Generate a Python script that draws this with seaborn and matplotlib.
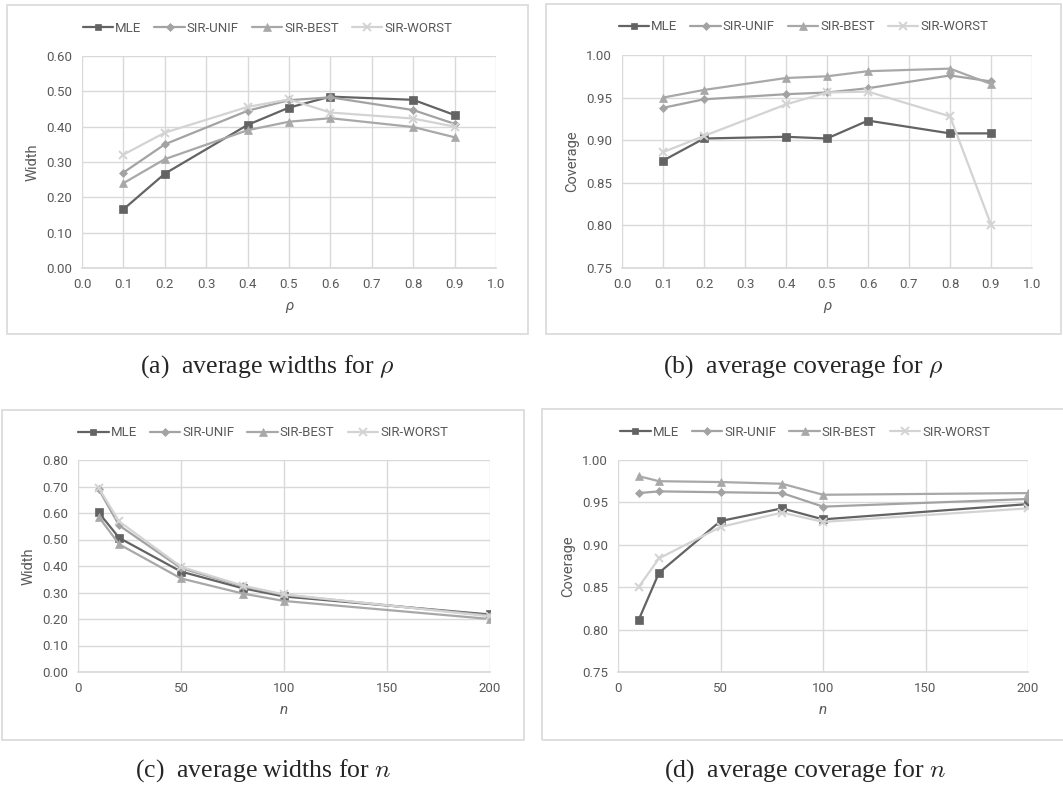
import matplotlib
matplotlib.use("Agg")
import matplotlib.pyplot as plt
import numpy as np
import pandas as pd
import seaborn as sns
from matplotlib.patches import Rectangle

sns.set_theme(style="whitegrid")
plt.rcParams["font.family"] = ["Roboto", "DejaVu Sans"]
plt.rcParams["mathtext.fontset"] = "cm"

W, H = 1063, 785

methods = ["MLE", "SIR-UNIF", "SIR-BEST", "SIR-WORST"]
colors = {"MLE": "#636363", "SIR-UNIF": "#a3a3a3", "SIR-BEST": "#a8a8a8", "SIR-WORST": "#d3d3d3"}
markers = {"MLE": "s", "SIR-UNIF": "D", "SIR-BEST": "^", "SIR-WORST": "x"}
msizes = {"MLE": 5.5, "SIR-UNIF": 4.5, "SIR-BEST": 6, "SIR-WORST": 6}

rho = [0.1, 0.2, 0.4, 0.5, 0.6, 0.8, 0.9]
width_rho = {
    "MLE": [0.166, 0.267, 0.405, 0.454, 0.485, 0.476, 0.433],
    "SIR-UNIF": [0.270, 0.350, 0.445, 0.475, 0.483, 0.447, 0.408],
    "SIR-BEST": [0.240, 0.308, 0.390, 0.414, 0.424, 0.399, 0.370],
    "SIR-WORST": [0.321, 0.383, 0.456, 0.477, 0.440, 0.423, 0.400],
}
cover_rho = {
    "MLE": [0.876, 0.902, 0.904, 0.902, 0.923, 0.908, 0.908],
    "SIR-UNIF": [0.938, 0.948, 0.954, 0.956, 0.961, 0.976, 0.969],
    "SIR-BEST": [0.950, 0.959, 0.973, 0.975, 0.981, 0.984, 0.966],
    "SIR-WORST": [0.886, 0.905, 0.942, 0.956, 0.957, 0.928, 0.801],
}

n_vals = [10, 20, 50, 80, 100, 200]
width_n = {
    "MLE": [0.602, 0.506, 0.379, 0.316, 0.285, 0.217],
    "SIR-UNIF": [0.690, 0.553, 0.392, 0.323, 0.291, 0.213],
    "SIR-BEST": [0.586, 0.482, 0.353, 0.296, 0.268, 0.200],
    "SIR-WORST": [0.695, 0.568, 0.397, 0.326, 0.293, 0.210],
}
cover_n = {
    "MLE": [0.811, 0.867, 0.928, 0.943, 0.930, 0.948],
    "SIR-UNIF": [0.961, 0.963, 0.962, 0.961, 0.945, 0.954],
    "SIR-BEST": [0.981, 0.975, 0.974, 0.972, 0.959, 0.961],
    "SIR-WORST": [0.850, 0.884, 0.921, 0.938, 0.927, 0.943],
}


def long_frame(x, table):
    rows = []
    for m in methods:
        for xv, yv in zip(x, table[m]):
            rows.append({"x": xv, "y": yv, "method": m})
    return pd.DataFrame(rows)


def px_axes(fig, left, top, right, bottom):
    return fig.add_axes([left / W, 1 - bottom / H, (right - left) / W, (bottom - top) / H])


def box(fig, left, top, right, bottom):
    fig.patches.append(Rectangle((left / W, 1 - bottom / H), (right - left) / W, (bottom - top) / H,
                                 transform=fig.transFigure, fill=False, edgecolor="#d9d9d9", linewidth=1.2))


def panel(fig, rect, frame, x, table, ylim, yticks, yfmt, ylabel, xlim, xticks, xfmt, xlabel, caption, cap_y):
    box(fig, *frame)
    ax = px_axes(fig, *rect)
    df = long_frame(x, table)
    for m in methods:
        sub = df[df["method"] == m]
        sns.lineplot(data=sub, x="x", y="y", ax=ax, color=colors[m], marker=markers[m],
                     markersize=msizes[m], markeredgecolor=colors[m],
                     markeredgewidth=1.4 if m == "SIR-WORST" else 0.5,
                     linewidth=1.6, label=m, legend=False)
    ax.set_xlim(*xlim)
    ax.set_ylim(*ylim)
    ax.set_xticks(xticks)
    ax.set_yticks(yticks)
    ax.set_xticklabels([xfmt.format(v) for v in xticks])
    ax.set_yticklabels([yfmt.format(v) for v in yticks])
    ax.tick_params(axis="both", labelsize=9.5, labelcolor="#595959", length=0, pad=7)
    ax.grid(True, color="#d9d9d9", linewidth=1)
    for s in ["top", "right", "left"]:
        ax.spines[s].set_visible(False)
    ax.spines["bottom"].set_color("#d9d9d9")
    ax.set_facecolor("white")
    ax.set_ylabel(ylabel, fontsize=10.5, color="#595959", labelpad=5)
    ax.set_xlabel(xlabel, fontsize=11, color="#595959", fontstyle="italic", labelpad=6)
    handles, labels = ax.get_legend_handles_labels()
    cx = (frame[0] + frame[2]) / 2
    cy = frame[1] + 23
    fig.legend(handles, labels, loc="center", bbox_to_anchor=(cx / W, 1 - cy / H), ncol=4, frameon=False,
               fontsize=9.5, labelcolor="#595959", handlelength=2.3, handletextpad=0.15, columnspacing=1.0,
               markerscale=0.9)
    fig.text(cx / W, 1 - cap_y / H, caption, ha="center", va="center",
             fontsize=18.5, family=["Liberation Serif", "DejaVu Serif"])
    return ax


fig = plt.figure(figsize=(W / 100, H / 100), dpi=100)
fig.patch.set_facecolor("white")

rho_ticks = np.round(np.arange(0, 1.01, 0.1), 1)
panel(fig, (82, 56, 496, 268), (7, 5, 528, 334), rho, width_rho, (0, 0.6),
      np.round(np.arange(0, 0.61, 0.1), 2), "{:.2f}", "Width",
      (0, 1.0), rho_ticks, "{:.1f}", "ρ", "(a)  average widths for $\\rho$", 367)
panel(fig, (622, 55, 1032, 268), (546, 4, 1061, 334), rho, cover_rho, (0.75, 1.0),
      np.round(np.arange(0.75, 1.001, 0.05), 2), "{:.2f}", "Coverage",
      (0, 1.0), rho_ticks, "{:.1f}", "ρ", "(b)  average coverage for $\\rho$", 367)
panel(fig, (78, 460, 490, 672), (2, 410, 524, 740), n_vals, width_n, (0, 0.8),
      np.round(np.arange(0, 0.81, 0.1), 2), "{:.2f}", "Width",
      (0, 200), [0, 50, 100, 150, 200], "{:d}", "n", "(c)  average widths for $n$", 771)
panel(fig, (618, 460, 1028, 672), (542, 409, 1068, 740), n_vals, cover_n, (0.75, 1.0),
      np.round(np.arange(0.75, 1.001, 0.05), 2), "{:.2f}", "Coverage",
      (0, 200), [0, 50, 100, 150, 200], "{:d}", "n", "(d)  average coverage for $n$", 771)

fig.savefig("out.png", dpi=100, facecolor="white")
